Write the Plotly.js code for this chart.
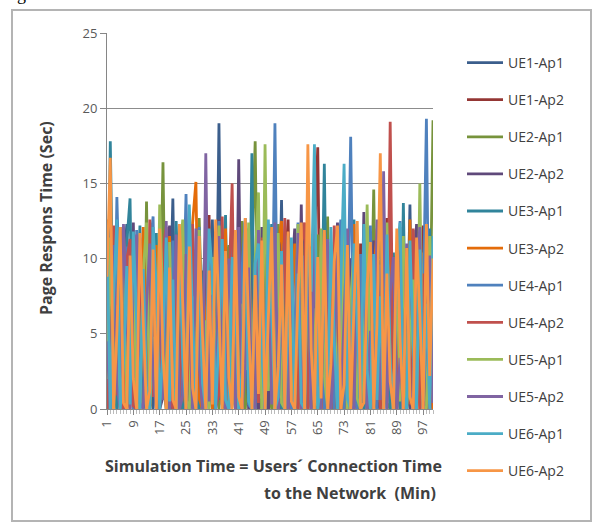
<!DOCTYPE html>
<html>
<head>
<meta charset="utf-8">
<script src="https://cdn.plot.ly/plotly-3.0.1.min.js"></script>
<style>html,body{margin:0;padding:0;background:#fff;}#chart{width:599px;height:522px;}</style>
</head>
<body>
<div id="chart"></div>
<script>
const seriesNames = ["UE1-Ap1","UE1-Ap2","UE2-Ap1","UE2-Ap2","UE3-Ap1","UE3-Ap2","UE4-Ap1","UE4-Ap2","UE5-Ap1","UE5-Ap2","UE6-Ap1","UE6-Ap2"];
const seriesColors = ["#3B5E8C","#943634","#77933C","#5F497A","#31849B","#E46C0A","#4F81BD","#C0504D","#9BBB59","#8064A2","#4BACC6","#F79646"];
const minutes = [];
for (let m = 1; m <= 100; m++) minutes.push(m);
const xTickVals = [1,9,17,25,33,41,49,57,65,73,81,89,97];
const xTickText = ["1","9","17","25","33","41","49","57","65","73","81","89","97"];

const ue1ap1 = [0,6.2,11.5,2.1,0,8.4,12.3,0.5,3.8,10.2, 0,4.6,9.8,1.2,0,7.5,11.9,2.4,0,5.3, 14.0,0.8,6.9,12.1,0,3.2,9.4,0,11.2,4.1, 0,7.8,12.6,1.5,19.0,0,5.6,10.8,2.2,0, 8.9,12.4,0.6,4.8,11.1,0,6.3,9.7,1.9,0, 7.2,12.8,3.4,13.9,0,5.1,10.4,0.9,0,8.1, 12.2,2.7,0,9.3,4.4,11.6,0,6.8,1.3,10.9, 0,3.9,12.5,0.4,7.7,0,10.1,2.8,0,6.5, 11.8,1.6,0,9.9,4.7,0,12.0,0.7,5.9,10.6, 0,3.3,13.6,0,8.2,2.5,11.3,0,6.1,1.0];
const ue1ap2 = [3.1,0,9.6,0.4,12.1,5.2,0,10.7,1.8,0, 8.3,11.4,0,2.9,9.1,0,6.6,12.3,0.3,4.2, 0,10.5,2.6,0,7.9,11.7,0.8,5.4,0,9.2, 1.4,12.9,0,6.2,3.0,10.3,0,8.6,1.1,11.5, 0,4.9,9.7,0.2,12.4,2.3,0,7.1,10.8,0, 3.6,11.9,0.5,0,8.8,12.6,1.7,0,5.8,10.0, 0,6.4,2.0,11.2,17.4,0,4.5,9.3,0.6,0, 7.4,12.1,0,2.4,9.8,0.9,0,11.0,5.0,0, 8.0,1.2,10.6,0,4.0,12.7,0.3,7.3,0,9.5, 2.7,0,11.4,5.5,0,8.7,12.2,0,1.9,0];
const ue2ap1 = [0,10.4,2.2,0,7.6,12.0,0.7,4.3,11.1,0, 5.8,0,13.8,1.0,8.5,0,3.7,16.4,0.4,9.0, 0,6.1,11.3,0,2.5,10.0,0.6,0,12.7,4.6, 0,9.5,1.3,11.8,0,6.7,0.2,10.9,3.4,0, 7.2,12.5,0,3.1,9.9,17.8,0.8,0,11.0,2.0, 0,8.1,12.3,0.5,5.0,0,10.7,1.6,0,12.0, 3.8,0,9.1,0.9,11.6,0,6.0,12.8,0.3,0, 8.9,2.1,0,11.4,4.8,0,10.2,0.7,7.0,0, 3.5,14.6,0,6.6,11.7,0.4,0,9.4,2.6,12.1, 0,5.7,10.3,0,1.8,8.2,0,11.6,4.0,19.2];
const ue2ap2 = [9.0,0,5.3,11.9,0.6,0,8.7,2.9,12.4,0, 4.4,10.1,0,1.7,11.5,6.0,0,0.8,9.6,12.2, 0,3.0,8.0,0.4,12.0,0,5.9,10.6,1.2,0, 11.0,2.8,0,7.4,12.6,0.3,0,9.9,4.5,0, 16.6,0.9,6.8,0,10.4,2.2,0,12.1,5.1,0, 9.2,0.6,0,11.3,3.9,0,8.4,12.0,1.5,13.6, 0,7.0,10.8,0.2,0,5.6,11.9,2.5,0,9.0, 12.4,0.8,4.3,0,10.0,6.5,0,1.1,13.1,0, 6.9,11.2,0.5,0,8.6,3.2,12.5,0,5.4,0, 10.9,1.9,0,7.8,12.3,0.7,4.1,0,9.7,3.0];
const ue3ap1 = [0,17.8,4.1,0,9.3,1.5,11.0,14.0,0,6.4, 12.2,0.3,0,8.9,3.5,11.7,0,5.2,10.3,0.9, 0,12.5,6.8,0,1.9,9.6,11.4,0.4,0,7.3, 12.0,3.6,0,10.2,0.6,8.1,12.9,0,2.7,9.4, 0,5.7,11.6,0.8,17.0,0,3.3,10.5,0,7.9, 12.3,0.2,4.7,0,9.8,11.5,0,2.9,8.3,0, 5.5,12.4,0.7,0,10.0,3.1,16.3,0,6.9,1.4, 0,11.1,8.0,0,2.3,12.6,0.5,5.3,0,10.8, 1.7,0,9.0,12.3,0.4,6.2,0,10.4,3.0,0, 13.7,0.6,7.5,11.9,0,4.4,0,9.2,12.0,0];
const ue3ap2 = [12.6,0,8.1,3.3,0,11.8,1.0,0,9.7,5.0, 0,12.1,2.2,0,7.0,10.9,0.5,4.6,0,11.5, 6.3,0,10.0,1.8,0,8.8,12.4,15.1,0.7,0, 5.2,11.1,0,2.6,9.5,0.3,12.0,0,6.7,10.2, 1.6,0,11.4,7.7,0,3.0,12.2,0.9,0,9.1, 4.2,0,10.7,12.5,0.6,0,6.5,11.0,2.0,0, 9.6,1.3,0,12.1,5.8,0,10.5,0.4,8.4,0, 3.4,11.7,0,7.2,0.8,12.3,0,4.9,10.1,1.5, 0,8.7,12.0,0.2,0,6.0,11.3,2.4,0,9.8, 4.5,0,12.6,1.1,7.6,0,10.4,0.6,3.8,0];
const ue4ap1 = [5.5,0,1.2,14.1,6.0,0,10.8,2.3,0,11.9, 1.4,7.7,0,10.4,12.8,0.6,0,9.1,3.0,0, 11.2,0.7,0,5.4,14.3,2.0,0,8.5,12.1,0.4, 0,10.6,3.8,0,12.5,7.0,0.5,0,11.0,4.4, 0,9.3,12.7,0.3,0,6.6,10.9,1.4,0,12.3, 2.9,19.0,0,8.0,11.6,0.8,0,4.8,12.4,0, 10.2,0,3.5,12.0,0.6,7.9,0,11.3,2.1,0, 9.4,12.6,0,5.0,18.1,0.9,0,10.3,6.2,0, 12.2,1.8,0,9.6,0.3,11.8,4.6,0,7.1,12.5, 0,2.8,10.0,0.5,0,11.7,6.4,19.3,0,8.8];
const ue4ap2 = [0,8.0,12.2,0.9,4.7,0,9.9,11.3,0.2,0, 10.0,3.1,0,12.6,0.8,5.5,0,10.7,12.1,1.3, 0,7.9,0.5,11.5,0,4.0,12.3,0,9.0,2.4, 0,11.7,6.1,0,1.0,12.8,0,8.3,15.0,0.6, 3.7,0,10.6,12.0,0,5.3,0.4,11.4,0,8.5, 0.7,10.3,0,3.2,12.7,0,7.4,1.1,0,11.0, 12.4,0,5.7,0.9,9.5,0,11.8,3.6,0,12.2, 0.5,0,8.2,11.9,0,2.0,10.6,0,6.3,12.1, 0,4.3,9.7,0,12.5,0.8,19.1,0,2.6,10.8, 0,7.0,0.3,12.0,5.9,0,9.0,0.4,0,1.5];
const ue5ap1 = [2.0,11.4,0,6.9,0.5,12.0,0,3.9,10.5,0.7, 0,9.0,12.4,0,4.8,0.3,13.6,7.2,0,11.1, 1.7,0,9.8,12.6,0.6,0,7.5,2.3,11.9,0, 5.9,0,10.1,0.8,12.2,3.4,0,9.6,0.4,11.8, 0,7.0,2.6,12.4,0,10.0,14.4,0,17.6,1.2, 6.0,0,11.7,0.4,0,9.2,3.8,0,12.3,5.4, 0,10.8,0.6,6.7,0,12.0,2.2,0,11.1,8.0, 0,1.4,12.5,0,7.3,10.4,0.7,0,4.1,13.6, 0.9,0,10.2,6.6,0,12.4,2.8,0,9.9,0.5, 11.5,0,3.7,8.6,0,15.0,0.2,0,11.5,6.8];
const ue5ap2 = [4.5,0,10.9,1.6,0,12.3,6.4,0,8.2,11.6, 0.4,0,6.9,11.0,2.1,0,9.8,0.6,12.5,0, 5.0,11.6,0,0.9,10.3,6.2,0,12.0,2.9,0, 17.0,0.5,7.6,0,11.5,1.8,0,10.0,5.7,0, 12.1,0,3.0,9.4,0.7,0,11.9,6.0,0,10.6, 0.3,12.4,0,7.1,2.5,0,10.9,0.8,11.7,0, 4.6,9.8,0,12.2,1.0,0,8.7,11.3,0,3.3, 10.4,0,6.1,12.0,0.2,0,9.5,2.7,11.2,0, 5.2,0,12.6,0.6,15.8,0,7.8,10.1,0,3.4, 0,11.0,1.3,0,9.3,12.1,0,5.0,10.2,0.4];
const ue6ap1 = [11.0,0,7.4,12.6,0,2.8,9.5,0.3,11.8,5.6, 0,9.3,1.5,0,12.1,8.0,0,4.2,11.4,0.5, 8.6,0,10.9,3.3,0,13.6,5.9,0,10.4,1.7, 0,12.0,8.8,0,4.9,11.3,0.6,0,10.1,7.5, 0,2.4,12.5,0.5,0,9.7,11.0,3.9,0,12.6, 6.9,0,0.8,10.5,0,5.2,11.4,0,9.0,0.4, 0,11.5,7.8,17.6,0,1.9,10.7,0,12.1,4.5, 0,8.4,16.3,0.7,0,11.0,5.4,0,12.3,2.6, 0,10.3,0.6,7.5,0,11.6,3.1,0,9.8,12.4, 0.9,0,11.2,4.3,0,10.6,0.5,7.0,0,11.5];
const ue6ap2 = [8.8,16.7,0,5.1,12.1,0.4,0,10.2,2.0,0, 11.7,6.4,0,1.2,10.6,0,12.0,3.6,0,9.4, 0.6,0,12.3,7.0,0,10.8,1.4,0,11.5,4.9, 0,9.2,0.3,12.6,6.3,0,10.5,2.1,0,11.9, 0.8,0,12.7,5.5,0,8.9,1.0,11.2,0,6.0, 12.1,0,2.8,9.6,0,11.8,0.5,0,7.7,12.4, 0,17.6,4.0,0,10.1,0.7,11.9,0,3.0,9.8, 12.2,0,1.6,10.9,0,6.8,12.5,0,0.4,8.3, 11.1,0,5.7,17.0,0,9.0,1.8,0,12.0,4.6, 0,10.7,0.8,0,11.4,6.2,0,12.3,2.2,10.0];

const seriesValues = [ue1ap1,ue1ap2,ue2ap1,ue2ap2,ue3ap1,ue3ap2,ue4ap1,ue4ap2,ue5ap1,ue5ap2,ue6ap1,ue6ap2];

const font = "'Open Sans', 'Liberation Sans', sans-serif";
const traces = seriesNames.map((name, i) => ({
  type: 'scatter', mode: 'lines', name: name,
  x: minutes, y: seriesValues[i],
  line: {color: seriesColors[i], width: 2.8},
  legendgroup: 'g' + i
}));

const L = 107, R = 433, T = 33, B = 409;
const px2x = p => (p - L) / (R - L);
const px2y = p => (B - p) / (B - T);

const layout = {
  width: 599, height: 522,
  margin: {l: L, r: 599 - R, t: T, b: 522 - B, pad: 0},
  paper_bgcolor: '#ffffff', plot_bgcolor: '#ffffff',
  font: {family: font, color: '#404040'},
  showlegend: true,
  legend: {
    x: px2x(462), xanchor: 'left', y: px2y(47), yanchor: 'top',
    traceorder: 'grouped', tracegroupgap: 15.9, itemwidth: 36, maxheight: 500,
    font: {family: font, size: 14, color: '#404040'},
    bgcolor: 'rgba(0,0,0,0)', borderwidth: 0
  },
  xaxis: {
    range: [1, 100], tickmode: 'array', tickvals: xTickVals, ticktext: xTickText,
    tickangle: -90, ticks: 'outside', ticklen: 5, tickcolor: '#868686',
    showgrid: false, zeroline: false, showline: true, linecolor: '#868686', linewidth: 1,
    tickfont: {family: font, size: 13, color: '#595959'},
    minor: {tickmode: 'linear', tick0: 1, dtick: 1, ticks: 'outside', ticklen: 4, tickcolor: '#BBBBBB', showgrid: false}
  },
  yaxis: {
    range: [0, 25], dtick: 5, tick0: 0, ticks: 'outside', ticklen: 6, tickcolor: '#868686',
    showgrid: true, gridcolor: '#8C8C8C', gridwidth: 1, zeroline: false,
    showline: true, linecolor: '#868686', linewidth: 1,
    tickfont: {family: font, size: 13, color: '#595959'}
  },
  annotations: [
    {text: 'Page Respons Time (Sec)', xref: 'paper', yref: 'paper', x: px2x(46), y: px2y(218),
     textangle: -90, showarrow: false, xanchor: 'center', yanchor: 'middle',
     font: {family: font, size: 16, color: '#404040', weight: 'bold'}},
    {text: 'Simulation Time = Users´ Connection Time', xref: 'paper', yref: 'paper', x: px2x(444), y: px2y(466),
     showarrow: false, xanchor: 'right', yanchor: 'middle',
     font: {family: font, size: 16, color: '#404040', weight: 'bold'}},
    {text: 'to the Network  (Min)', xref: 'paper', yref: 'paper', x: px2x(438), y: px2y(493),
     showarrow: false, xanchor: 'right', yanchor: 'middle',
     font: {family: font, size: 16, color: '#404040', weight: 'bold'}},
    {text: 'Figure 6.', xref: 'paper', yref: 'paper', x: px2x(0), y: px2y(6),
     showarrow: false, xanchor: 'left', yanchor: 'bottom',
     font: {family: "'Liberation Serif', serif", size: 18, color: '#000000'}}
  ],
  shapes: [
    {type: 'rect', xref: 'paper', yref: 'paper', x0: px2x(12), x1: px2x(591), y0: px2y(521), y1: px2y(10),
     line: {color: '#B4B4B4', width: 2}, fillcolor: 'rgba(0,0,0,0)', layer: 'below'}
  ]
};

Plotly.newPlot('chart', traces, layout, {staticPlot: true, displayModeBar: false});
</script>
</body>
</html>
